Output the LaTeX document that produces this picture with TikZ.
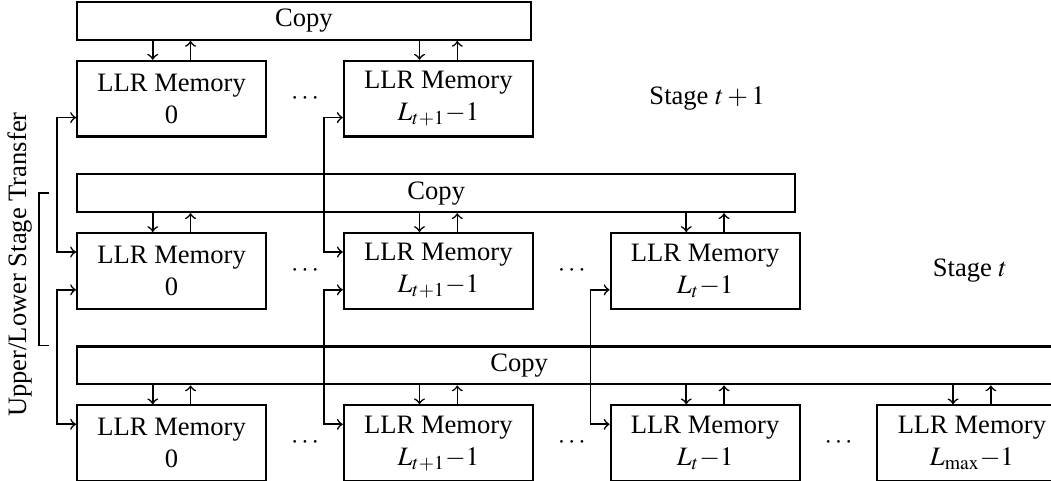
\documentclass[tikz,border=0pt]{standalone}
\usepackage{mathptmx}
\usepackage{fontspec}
\setmainfont{Liberation Serif}
\usetikzlibrary{positioning}

\begin{document}
\begin{tikzpicture}[>=to,semithick,node distance=1cm,
                    mem/.style={draw,thick,minimum width=2.5cm,minimum height=1cm,
                                inner sep=0pt,align=center},
                    copybox/.style={draw,thick,minimum height=0.5cm,inner sep=0pt,
                                    anchor=south west}]
  \useasboundingbox (0,0) rectangle (13.90,-6.35);
  \clip (0,0) rectangle (13.90,-6.35);

  % stage t+1
  \node[mem] (a0) at (2.27,-1.305)  {LLR Memory\\0};
  \node[mem] (a1) [right=of a0]     {LLR Memory\\$L_{t+1}{-}1$};
  % stage t
  \node[mem] (b0) [below=1.25cm of a0] {LLR Memory\\0};
  \node[mem] (b1) [right=of b0]        {LLR Memory\\$L_{t+1}{-}1$};
  \node[mem] (b2) [right=of b1]        {LLR Memory\\$L_t{-}1$};
  % stage t-1
  \node[mem] (c0) [below=1.25cm of b0] {LLR Memory\\0};
  \node[mem] (c1) [right=of c0]        {LLR Memory\\$L_{t+1}{-}1$};
  \node[mem] (c2) [right=of c1]        {LLR Memory\\$L_t{-}1$};
  \node[mem] (c3) [right=of c2]        {LLR Memory\\$L_{\max}{-}1$};

  % copy units
  \node[copybox,minimum width=6cm]   (ca) at ([yshift=2.5mm]a0.north west) {Copy};
  \node[copybox,minimum width=9.5cm] (cb) at ([yshift=2.5mm]b0.north west) {Copy};
  \node[copybox,minimum width=13cm]  (cc) at ([yshift=2.5mm]c0.north west) {};
  \node (cctext) at ([xshift=5.86cm]cc.west) {Copy};

  % dots between memories
  \path (a0) -- (a1) node[midway] (da0) {$\cdots$};
  \path (b0) -- (b1) node[midway] (db0) {$\cdots$};
  \path (b1) -- (b2) node[midway] (db1) {$\cdots$};
  \path (c0) -- (c1) node[midway] (dc0) {$\cdots$};
  \path (c1) -- (c2) node[midway] (dc1) {$\cdots$};
  \path (c2) -- (c3) node[midway] (dc2) {$\cdots$};

  \node (sa) [right=1.4cm of a1]  {Stage $t+1$};
  \node (sb) [right=1.62cm of b2] {Stage $t$};

  % copy <-> memory
  \foreach \m/\c in {a0/ca,a1/ca,b0/cb,b1/cb,b2/cb,c0/cc,c1/cc,c2/cc,c3/cc}{
    \draw[->] ([xshift=-2.5mm]\m.north |- \c.south) -- ([xshift=-2.5mm]\m.north);
    \draw[->] ([xshift=2.5mm]\m.north) -- ([xshift=2.5mm]\m.north |- \c.south);
  }

  % transfer between stages
  \foreach \u/\l in {a0/b0,a1/b1,b0/c0,b1/c1,b2/c2}{
    \draw[<->] ([yshift=-2.5mm]\u.west) -- ++(-2.5mm,0) |- ([yshift=2.5mm]\l.west);
  }

  % bracket
  \draw ([xshift=-3.6mm]cb.west) -- ++(-1.3mm,0) |- ([xshift=-3.6mm]cc.north west);
  \node[rotate=90] (tr) at (0.26,-3.5) {Upper/Lower Stage Transfer};
\end{tikzpicture}
\end{document}
